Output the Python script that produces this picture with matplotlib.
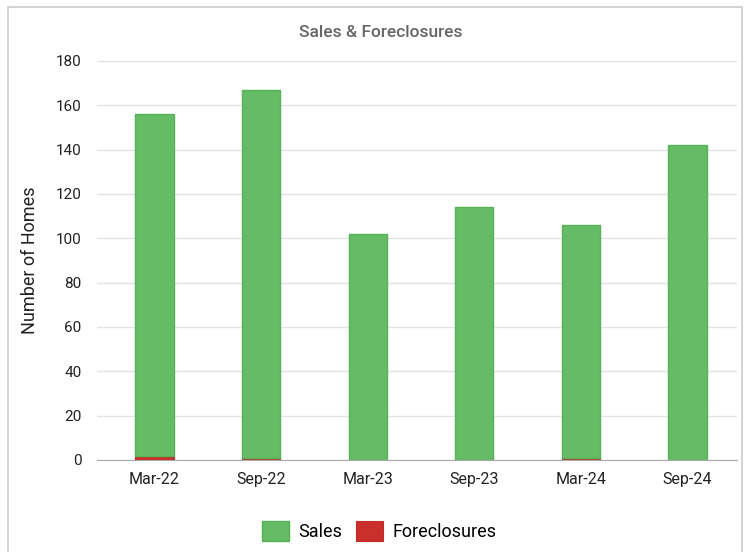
import matplotlib.pyplot as plt
import numpy as np
from matplotlib.patches import Rectangle

plt.rcParams["font.family"] = ["Roboto", "DejaVu Sans"]

categories = ["Mar-22", "Sep-22", "Mar-23", "Sep-23", "Mar-24", "Sep-24"]
foreclosures = [2, 1, 0, 0, 1, 0]
sales = [154, 166, 102, 114, 105, 142]

fig = plt.figure(figsize=(7.55, 5.52), dpi=100)
ax = fig.add_axes([0.1285, 0.1667, 0.847, 0.7228])

# outer light border around the chart card
fig.patches.append(Rectangle((0.011, -0.01), 0.972, 0.997, transform=fig.transFigure,
                             fill=False, edgecolor="#cccccc", lw=1.2))

x = np.arange(len(categories))
w = 0.36
ax.bar(x, foreclosures, w, color="#c9302c", edgecolor="#c62828", lw=0.8, label="Foreclosures", zorder=3)
ax.bar(x, sales, w, bottom=foreclosures, color="#66bb66", edgecolor="#55b255", lw=1,
       label="Sales", zorder=3)

ax.set_xlim(-0.54, 5.46)
ax.set_ylim(0, 180)
ax.set_yticks(range(0, 181, 20))
ax.set_xticks(x)
ax.set_xticklabels(categories)
ax.tick_params(axis="x", labelsize=11.5, colors="#222222", length=0, pad=9)
ax.tick_params(axis="y", labelsize=11, colors="#222222", length=0, pad=11)
ax.grid(axis="y", color="#e3e3e3", lw=1, zorder=0)
for s in ["top", "right", "left"]:
    ax.spines[s].set_visible(False)
ax.spines["bottom"].set_color("#aaaaaa")
ax.set_ylabel("Number of Homes", fontsize=13, color="#222222", labelpad=12)

fig.text(0.504, 0.942, "Sales & Foreclosures", ha="center", va="center", fontsize=12.5,
         fontweight="medium", color="#666666")

h, l = ax.get_legend_handles_labels()
fig.legend(h[::-1], l[::-1], loc="center", bbox_to_anchor=(0.502, 0.038), ncol=2, frameon=False,
           fontsize=13, handlelength=1.5, handleheight=1.3, columnspacing=0.8, handletextpad=0.5)

fig.savefig("out.png", dpi=100)
